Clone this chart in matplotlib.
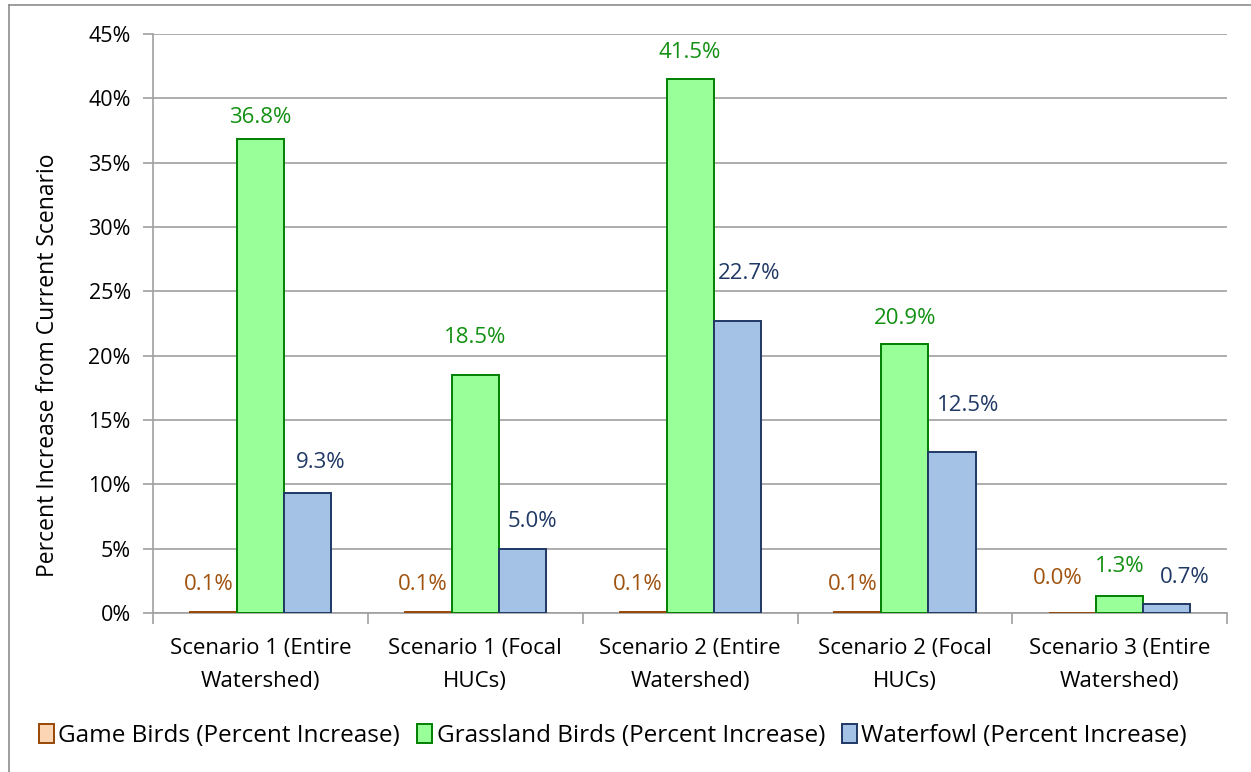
import numpy as np
import matplotlib.pyplot as plt
from matplotlib.lines import Line2D

plt.rcParams['font.family'] = ['Open Sans', 'DejaVu Sans']

categories = ['Scenario 1 (Entire\nWatershed)', 'Scenario 1 (Focal\nHUCs)',
              'Scenario 2 (Entire\nWatershed)', 'Scenario 2 (Focal\nHUCs)',
              'Scenario 3 (Entire\nWatershed)']
series_names = ['Game Birds (Percent Increase)', 'Grassland Birds (Percent Increase)',
                'Waterfowl (Percent Increase)']
game_birds = [0.1, 0.1, 0.1, 0.1, 0.0]
grassland_birds = [36.8, 18.5, 41.5, 20.9, 1.3]
waterfowl = [9.3, 5.0, 22.7, 12.5, 0.7]
yticks = [0, 5, 10, 15, 20, 25, 30, 35, 40, 45]

faces = ['#FCD5B5', '#99FF99', '#A4C2E6']
edges = ['#984807', '#008000', '#1F3864']
text_colors = ['#A0520F', '#119011', '#1F3864']

# label nudges in pixels (dx, dy above bar top), like Excel's auto placement
nudges = [
    [(-5, 27), (-5, 27), (-5, 27), (-5, 27), (-15, 34)],
    [(0, 22), (0, 37), (0, 27), (0, 26), (0, 30)],
    [(13, 31), (10, 27), (12, 47), (16, 47), (18, 26)],
]

fig = plt.figure(figsize=(12.51, 7.72), dpi=100)
ax = fig.add_axes([0.1223, 0.206, 0.8587, 0.75])

x = np.arange(len(categories))
w = 0.219
px = 72 / fig.dpi
for i, vals in enumerate([game_birds, grassland_birds, waterfowl]):
    pos = x + (i - 1) * w
    ax.bar(pos, vals, width=w, color=faces[i], edgecolor=edges[i], linewidth=1.4,
           label=series_names[i], zorder=3)
    for j, (p, v) in enumerate(zip(pos, vals)):
        dx, dy = nudges[i][j]
        ax.annotate(f'{v:.1f}%', (p, v), xytext=(dx * px, dy * px), textcoords='offset points',
                    ha='center', va='center', fontsize=16, color=text_colors[i])

ax.set_xlim(-0.5, len(categories) - 0.5)
ax.set_ylim(0, 45)
ax.set_yticks(yticks)
ax.set_yticklabels([f'{t}%' for t in yticks], fontsize=15.5)
ax.set_xticks(x)
ax.set_xticklabels(categories, fontsize=16, linespacing=1.75)
ax.tick_params(axis='x', length=0, pad=18)
ax.set_xticks(np.arange(-0.5, len(categories)), minor=True)
ax.tick_params(axis='x', which='minor', length=8, color='#A0A0A0', width=1.2)
ax.tick_params(axis='y', length=7, color='#A0A0A0', width=1.2, pad=9)
ax.grid(axis='y', color='#A0A0A0', linewidth=1.2, zorder=0)
for s in ['top', 'right']:
    ax.spines[s].set_visible(False)
for s in ['left', 'bottom']:
    ax.spines[s].set_color('#A0A0A0')
    ax.spines[s].set_linewidth(1.2)
ax.set_ylabel('Percent Increase from Current Scenario', fontsize=16.5)
ax.yaxis.set_label_coords(-0.0866, 0.428)

handles = [plt.Rectangle((0, 0), 1, 1, facecolor=faces[i], edgecolor=edges[i], linewidth=1.4)
           for i in range(3)]
fig.legend(handles, series_names, loc='center', bbox_to_anchor=(0.49, 0.047), ncol=3,
           frameon=False, fontsize=17.5, handlelength=0.6, handleheight=0.8,
           handletextpad=0.2, columnspacing=0.7)

# outer chart border (left and top edges visible)
fig.add_artist(Line2D([0.0072, 0.0072], [0, 0.9935], color='#8C8C8C', lw=1.2,
                      transform=fig.transFigure))
fig.add_artist(Line2D([0.0072, 1], [0.9935, 0.9935], color='#8C8C8C', lw=1.2,
                      transform=fig.transFigure))

fig.savefig('out.png', dpi=100)
